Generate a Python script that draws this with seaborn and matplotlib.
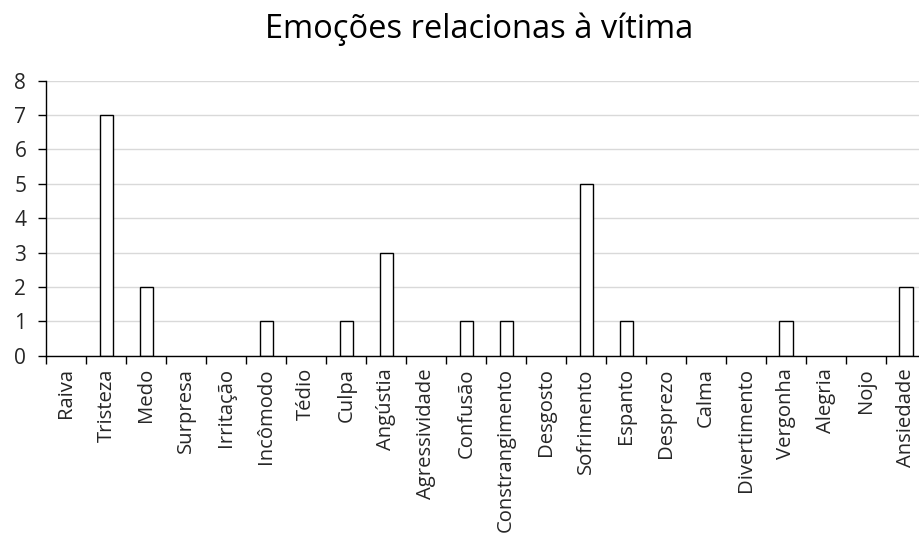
import matplotlib
matplotlib.use("Agg")
import matplotlib.pyplot as plt
import seaborn as sns
import pandas as pd
import numpy as np

emocoes = ["Raiva", "Tristeza", "Medo", "Surpresa", "Irritação", "Incômodo",
           "Tédio", "Culpa", "Angústia", "Agressividade", "Confusão",
           "Constrangimento", "Desgosto", "Sofrimento", "Espanto", "Desprezo",
           "Calma", "Divertimento", "Vergonha", "Alegria", "Nojo", "Ansiedade"]
contagens = [0, 7, 2, 0, 0, 1, 0, 1, 3, 0, 1, 1, 0, 5, 1, 0, 0, 0, 1, 0, 0, 2]
y_ticks = [0, 1, 2, 3, 4, 5, 6, 7, 8]
titulo = "Emoções relacionas à vítima"

df = pd.DataFrame({"emocao": emocoes, "n": contagens})

sns.set_style("white")
plt.rcParams["font.family"] = ["Open Sans", "DejaVu Sans"]

fig = plt.figure(figsize=(9.2, 5.39), dpi=100)
ax = fig.add_axes([46.5 / 920, 183.3 / 539, (926 - 46.5) / 920, 275 / 539])

sns.barplot(data=df, x="emocao", y="n", color="white", edgecolor="black",
            linewidth=1.0, width=0.33, saturation=1, ax=ax, zorder=3)

# barras com valor zero nao aparecem no original
for p in ax.patches:
    if p.get_height() == 0:
        p.set_linewidth(0)

ax.set_xlim(-0.5, len(emocoes) - 0.5)
ax.set_ylim(0, 8)
ax.set_yticks(y_ticks)
ax.set_yticklabels([str(v) for v in y_ticks])
ax.yaxis.grid(True, color="#d9d9d9", linewidth=1.0, zorder=0)
ax.set_axisbelow(True)

ax.set_xticks(np.arange(len(emocoes)))
ax.set_xticklabels(emocoes, rotation=90)
ax.set_xticks(np.arange(len(emocoes) + 1) - 0.5, minor=True)
ax.tick_params(axis="x", which="major", length=0, pad=9, labelsize=14.6)
ax.tick_params(axis="x", which="minor", length=5.5, width=1.0, color="black",
               direction="out", bottom=True)
ax.tick_params(axis="y", length=5.5, width=1.0, color="black", direction="out",
               left=True, pad=9, labelsize=15)

for s in ["top", "right"]:
    ax.spines[s].set_visible(False)
for s in ["left", "bottom"]:
    ax.spines[s].set_color("black")
    ax.spines[s].set_linewidth(1.0)
ax.spines["bottom"].set_zorder(4)

ax.set_xlabel("")
ax.set_ylabel("")

fig.text(479 / 920, 1 - 38.5 / 539, titulo, ha="center", va="baseline",
         fontsize=23.5, color="black")

fig.savefig("out.png", dpi=100, facecolor="white")
